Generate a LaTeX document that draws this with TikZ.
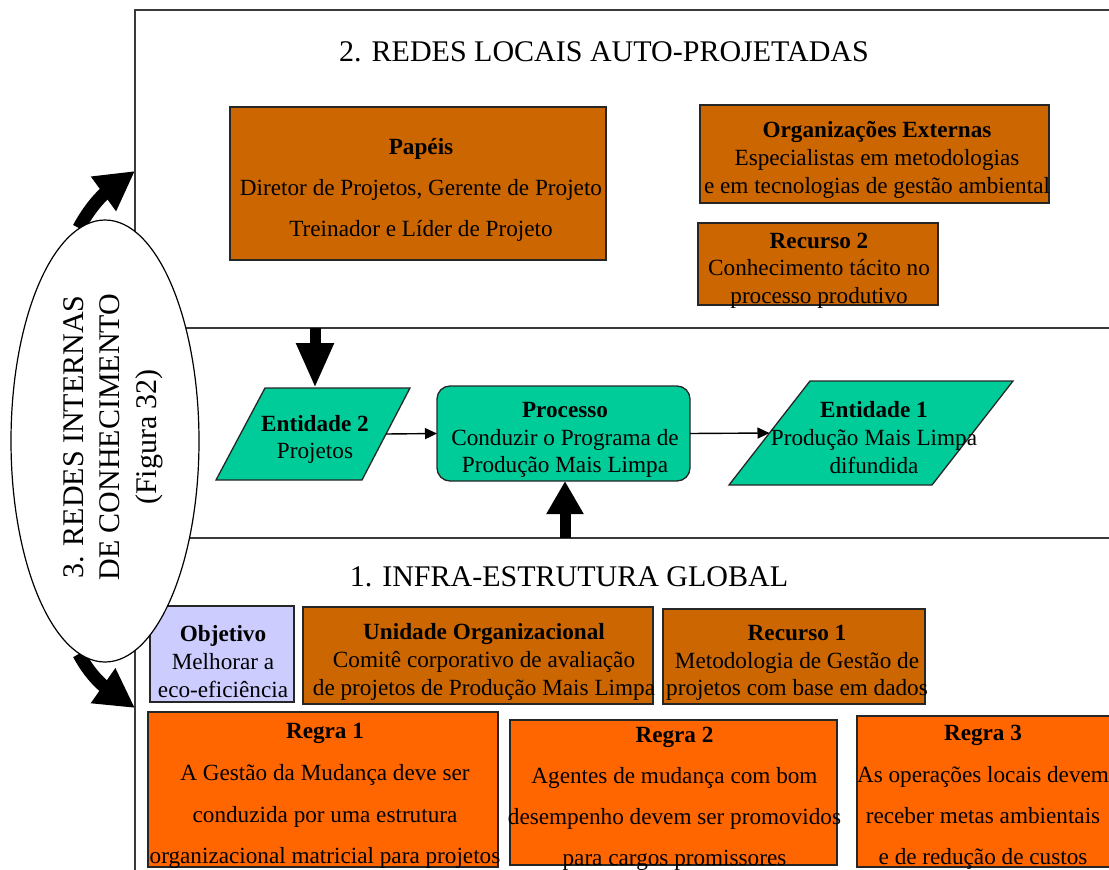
\documentclass[tikz,border=0pt]{standalone}
\usepackage{fontspec}
\setmainfont{Liberation Serif}
\usetikzlibrary{arrows.meta,shapes.geometric,backgrounds,calc}
\definecolor{orgColor}{HTML}{CC6600}
\definecolor{ruleColor}{HTML}{FF6600}
\definecolor{flowColor}{HTML}{00CC99}
\definecolor{goalColor}{HTML}{CCCCFF}
\definecolor{frameColor}{HTML}{3A3A3A}
\tikzset{
	cell/.style={draw=black!85, line width=1.3pt, inner sep=0, outer sep=0},
	orgbox/.style={cell, fill=orgColor},
	rulebox/.style={cell, fill=ruleColor},
	goalbox/.style={cell, fill=goalColor},
	procbox/.style={cell, fill=flowColor, rounded corners=13pt},
	txt/.style={align=center, inner sep=0, yshift=-2.5pt, font=\fontsize{23.2}{#1}\selectfont},
	txt/.default=27.7,
	layertitle/.style={inner sep=0, font=\fontsize{30}{36.5}\selectfont},
	flow/.style={line width=1.4pt, -{Triangle[width=11pt,length=12pt]}},
	fat/.style={line width=11pt, -{Triangle[width=35pt,length=#1]}},
	curvearrow/.style={line width=13pt, -{Triangle[width=40pt,length=39pt]}}
}

\begin{document}
\begin{tikzpicture}[x=1pt,y=-1pt]
	\useasboundingbox (0,0) rectangle (1109,870);
	\clip (0,0) rectangle (1109,870);
	% the three layers
	\draw[frameColor, line width=2pt] (1109,10) -- (135,10) -- (135,870);
	\draw[frameColor, line width=2pt] (135,328) -- (1109,328);
	\draw[frameColor, line width=2pt] (135,538) -- (1109,538);
	\node[layertitle] (locais) at (604,51.5) {2. REDES LOCAIS AUTO-PROJETADAS};
	\node[layertitle] (infra) at (569,577) {1. INFRA-ESTRUTURA GLOBAL};

	% local networks
	\node[orgbox, minimum width=376, minimum height=153] (papeis) at (418,183.5) {};
	\node[txt=41] (papeis-t) at (421,187) {\textbf{Papéis}\\Diretor de Projetos, Gerente de Projeto\\Treinador e Líder de Projeto};
	\node[orgbox, minimum width=349, minimum height=98] (orgext) at (874.5,154) {};
	\node[txt] (orgext-t) at (877,157.5) {\textbf{Organizações Externas}\\Especialistas em metodologias\\e em tecnologias de gestão ambiental};
	\node[orgbox, minimum width=240, minimum height=82] (rec2) at (818,264) {};
	\node[txt] (rec2-t) at (819,268) {\textbf{Recurso 2}\\Conhecimento tácito no\\processo produtivo};

	% process chain
	\filldraw[cell, fill=flowColor] (265,388) coordinate (ent2-nw) -- (410,388) coordinate (ent2-ne)
		-- (362,480) coordinate (ent2-se) -- (216,480) coordinate (ent2-sw) -- cycle;
	\node[txt] (ent2) at (315,437) {\textbf{Entidade 2}\\Projetos};
	\node[procbox, minimum width=253, minimum height=95] (proc) at (563.5,433.5) {};
	\node[txt] (proc-t) at (565,437.5) {\textbf{Processo}\\Conduzir o Programa de\\Produção Mais Limpa};
	\filldraw[cell, fill=flowColor] (810,381) coordinate (ent1-nw) -- (1013,381) coordinate (ent1-ne)
		-- (932,485) coordinate (ent1-se) -- (729,485) coordinate (ent1-sw) -- cycle;
	\node[txt] (ent1) at (874,435) {\textbf{Entidade 1}\\Produção Mais Limpa\\difundida};
	\coordinate (ent2-e) at ($(ent2-ne)!0.5!(ent2-se)$);
	\coordinate (ent1-w) at ($(ent1-nw)!0.5!(ent1-sw)$);
	\coordinate (ent2-in) at (315,388);
	\coordinate (locais-out) at (315,328);
	\coordinate (infra-out) at (565,538);
	\draw[flow] (ent2-e) -- (proc.west);
	\draw[flow] (proc.east) -- (ent1-w);
	\draw[fat=45pt] (locais-out) -- (ent2-in);
	\draw[fat=33pt] (infra-out) -- (infra-out |- proc.south);

	% global infrastructure
	\node[goalbox, minimum width=144, minimum height=96] (obj) at (222,654) {};
	\node[txt] (obj-t) at (223,659) {\textbf{Objetivo}\\Melhorar a\\eco-eficiência};
	\node[orgbox, minimum width=350, minimum height=97] (unid) at (478,655.5) {};
	\node[txt] (unid-t) at (484,659.5) {\textbf{Unidade Organizacional}\\Comitê corporativo de avaliação\\de projetos de Produção Mais Limpa};
	\node[orgbox, minimum width=262, minimum height=95] (rec1) at (794,656.5) {};
	\node[txt] (rec1-t) at (797,660.5) {\textbf{Recurso 1}\\Metodologia de Gestão de\\projetos com base em dados};
	\node[rulebox, minimum width=350, minimum height=155] (regra1) at (323,789.5) {};
	\node[txt=41.7] (regra1-t) at (325,793.5) {\textbf{Regra 1}\\A Gestão da Mudança deve ser\\conduzida por uma estrutura\\organizacional matricial para projetos};
	\node[rulebox, minimum width=327, minimum height=145] (regra2) at (673.5,792.5) {};
	\node[txt=41] (regra2-t) at (674.5,796.5) {\textbf{Regra 2}\\Agentes de mudança com bom\\desempenho devem ser promovidos\\para cargos promissores};
	\node[rulebox, minimum width=255, minimum height=151] (regra3) at (984.5,791.5) {};
	\node[txt=41.3] (regra3-t) at (983,795) {\textbf{Regra 3}\\As operações locais devem\\receber metas ambientais\\e de redução de custos};

	% internal knowledge networks
	\node[ellipse, draw, fill=white, line width=1.2pt, minimum width=188, minimum height=442, inner sep=0] (internas) at (105,441) {};
	\node[layertitle, align=center, rotate=90] (internas-t) at (113,437) {3. REDES INTERNAS\\DE CONHECIMENTO\\(Figura 32)};
	\coordinate (locais-in) at (135,171);
	\coordinate (infra-in) at (135,708);
	\begin{scope}[on background layer]
		\draw[curvearrow] (internas.97) to[out=62,in=216] (locais-in);
		\draw[curvearrow] (internas.-97) to[out=-62,in=145] (infra-in);
	\end{scope}
\end{tikzpicture}
\end{document}
